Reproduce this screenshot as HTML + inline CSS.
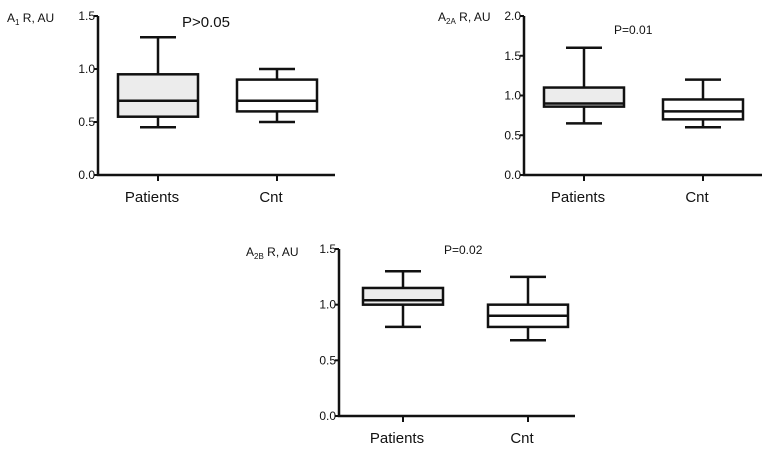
<!DOCTYPE html>
<html><head><meta charset="utf-8"><style>
html,body{margin:0;padding:0;background:#fff}
svg text{font-family:"Liberation Sans",sans-serif;fill:#111}
</style></head><body>
<svg id="s" width="765" height="451" viewBox="0 0 765 451"></svg>
<script>
const categories=["Patients","Cnt"];
const a1Values=[[0.45,0.55,0.7,0.95,1.3],[0.5,0.6,0.7,0.9,1.0]];
const a2aValues=[[0.65,0.86,0.9,1.1,1.6],[0.6,0.7,0.8,0.95,1.2]];
const a2bValues=[[0.8,1.0,1.04,1.15,1.3],[0.68,0.8,0.9,1.0,1.25]];
const a1Ticks=["0.0","0.5","1.0","1.5"];
const a2aTicks=["0.0","0.5","1.0","1.5","2.0"];
const a2bTicks=["0.0","0.5","1.0","1.5"];
const NS="http://www.w3.org/2000/svg";
const svg=document.getElementById('s');
function mk(tag,attrs,parent){const e=document.createElementNS(NS,tag);for(const k in attrs)e.setAttribute(k,attrs[k]);(parent||svg).appendChild(e);return e;}
function chart(o){
  const g=mk('g',{});
  
  
  const ymax=parseFloat(o.ticks[o.ticks.length-1]);
  const y=v=>o.y0-(v/ymax)*(o.y0-o.y1);
  const ax=mk('path',{d:`M${o.x0},${o.y1} V${o.y0} H${o.xe}`,stroke:'#111','stroke-width':2.5,fill:'none'},g);
  
  
  o.ticks.forEach(t=>{const v=parseFloat(t),yy=y(v);
    mk('line',{x1:o.x0-4,x2:o.x0,y1:yy,y2:yy,stroke:'#111','stroke-width':2},g);
    const tx=mk('text',{x:o.x0-3,y:yy+4,'text-anchor':'end','font-size':12},g);tx.textContent=t;
    
    
  });
  o.values.forEach((vals,i)=>{
    const cx=o.cx[i],hw=40,cw=18;
    mk('line',{x1:cx,x2:cx,y1:o.y0,y2:o.y0+6,stroke:'#111','stroke-width':2},g);
    const lb=mk('text',{x:cx-6,y:o.y0+27,'text-anchor':'middle','font-size':15},g);lb.textContent=categories[i];
    
    
    const bg=mk('g',{},g);
    
    
    const [mn,q1,md,q3,mx]=vals;
    mk('line',{x1:cx,x2:cx,y1:y(mx),y2:y(q3),stroke:'#111','stroke-width':2.5},bg);
    mk('line',{x1:cx,x2:cx,y1:y(q1),y2:y(mn),stroke:'#111','stroke-width':2.5},bg);
    mk('line',{x1:cx-cw,x2:cx+cw,y1:y(mx),y2:y(mx),stroke:'#111','stroke-width':2.5},bg);
    mk('line',{x1:cx-cw,x2:cx+cw,y1:y(mn),y2:y(mn),stroke:'#111','stroke-width':2.5},bg);
    mk('rect',{x:cx-hw,y:y(q3),width:2*hw,height:y(q1)-y(q3),fill:i==0?'#ececec':'#fff',stroke:'#111','stroke-width':2.5},bg);
    mk('line',{x1:cx-hw,x2:cx+hw,y1:y(md),y2:y(md),stroke:'#111','stroke-width':2.5},bg);
  });
  const yl=mk('text',{x:o.lx,y:o.ly,'font-size':12},g);
  yl.innerHTML=`A<tspan font-size="8" dy="3">${o.sub}</tspan><tspan dy="-3"> R, AU</tspan>`;
  
  
  const p=mk('text',{x:o.px,y:o.py,'font-size':o.ps},g);p.textContent=o.p;
  
  
}
chart({name:'chart-a1',x0:98,xe:335,y0:175,y1:16,cx:[158,277],values:a1Values,ticks:a1Ticks,sub:'1',lx:7,ly:22,p:'P>0.05',px:182,py:27,ps:15});
chart({name:'chart-a2a',x0:524,xe:762,y0:175,y1:16,cx:[584,703],values:a2aValues,ticks:a2aTicks,sub:'2A',lx:438,ly:21,p:'P=0.01',px:614,py:34,ps:12});
chart({name:'chart-a2b',x0:339,xe:575,y0:416,y1:249,cx:[403,528],values:a2bValues,ticks:a2bTicks,sub:'2B',lx:246,ly:256,p:'P=0.02',px:444,py:254,ps:12});
</script>
</body></html>
